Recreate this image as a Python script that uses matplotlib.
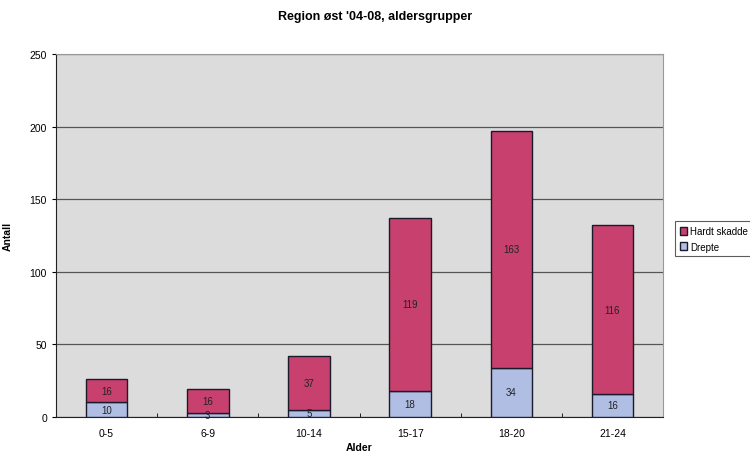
import matplotlib.pyplot as plt
import numpy as np

plt.rcParams['font.family'] = ['Liberation Sans', 'DejaVu Sans']

age_groups = ["0-5", "6-9", "10-14", "15-17", "18-20", "21-24"]
drepte = [10, 3, 5, 18, 34, 16]
hardt_skadde = [16, 16, 37, 119, 163, 116]

pink = "#c8416e"
blue = "#b0bee4"

fig = plt.figure(figsize=(7.5, 4.56), dpi=100)
ax = fig.add_axes([0.0747, 0.0833, 0.8093, 0.7961])
ax.set_facecolor("#dcdcdc")

x = np.arange(len(age_groups))
w = 0.41
b1 = ax.bar(x, drepte, w, color=blue, edgecolor="#1a1a2a", linewidth=1.0,
            label="Drepte", zorder=3)
b2 = ax.bar(x, hardt_skadde, w, bottom=drepte, color=pink, edgecolor="#1a1a2a",
            linewidth=1.0, label="Hardt skadde", zorder=3)

# value labels in the middle of each segment
for i in range(len(age_groups)):
    ax.text(x[i], drepte[i] / 2, str(drepte[i]), ha="center", va="center",
            fontsize=7, color="#222222", zorder=4)
    ax.text(x[i], drepte[i] + hardt_skadde[i] / 2, str(hardt_skadde[i]),
            ha="center", va="center", fontsize=7, color="#222222", zorder=4)

ax.set_xlim(-0.5, len(age_groups) - 0.5)
ax.set_ylim(0, 250)
ax.set_yticks(np.arange(0, 251, 50))
ax.yaxis.grid(True, color="#555555", linewidth=0.9, zorder=1)
ax.set_xticks(x)
ax.set_xticklabels(age_groups, fontsize=7.5)
ax.set_xticks(np.arange(0.5, len(age_groups) - 0.5, 1), minor=True)
ax.tick_params(axis="x", which="major", length=0, pad=8)
ax.tick_params(axis="x", which="minor", length=3, direction="in")
ax.tick_params(axis="y", labelsize=7.5, length=3)

for s in ["top", "right"]:
    ax.spines[s].set_color("#999999")
    ax.spines[s].set_linewidth(0.8)
ax.spines["left"].set_color("#222222")
ax.spines["bottom"].set_color("#222222")

ax.set_ylabel("Antall", fontsize=7.5, fontweight="bold", labelpad=12)
ax.set_xlabel("Alder", fontsize=7.5, fontweight="bold", labelpad=3)
fig.text(0.5, 0.962, "Region øst '04-08, aldersgrupper", ha="center", va="center",
         fontsize=9, fontweight="bold")

leg = fig.legend(handles=[b2, b1], loc="center left", bbox_to_anchor=(0.897, 0.474),
                 fontsize=7, frameon=True, fancybox=False, handlelength=0.8,
                 handleheight=0.8, handletextpad=0.3, borderpad=0.5,
                 labelspacing=0.55, borderaxespad=0.2, edgecolor="#333333")
leg.get_frame().set_linewidth(0.8)

fig.savefig("out.png", dpi=100)
